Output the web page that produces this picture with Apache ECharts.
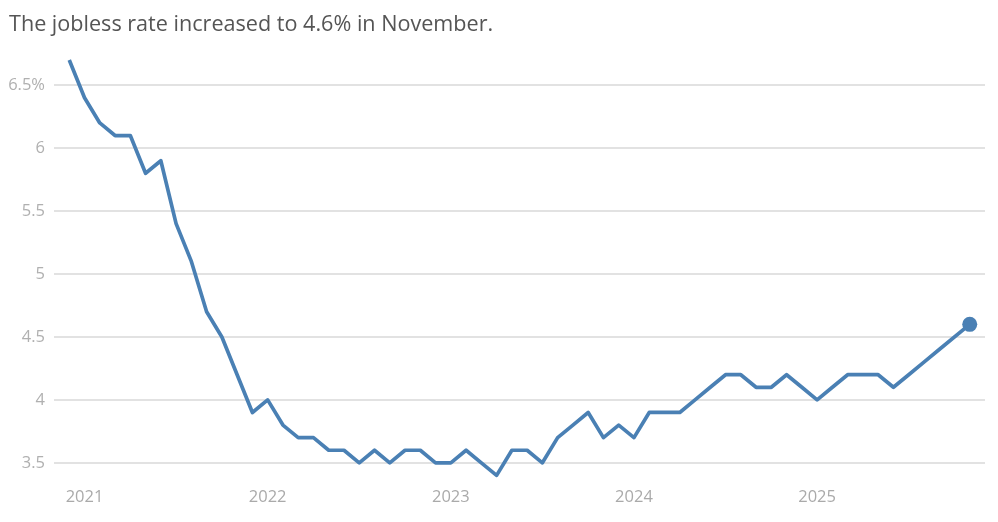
<!DOCTYPE html>
<html>
<head>
<meta charset="utf-8">
<script src="https://cdn.jsdelivr.net/npm/echarts@6/dist/echarts.min.js"></script>
<style>
html, body { margin: 0; padding: 0; background: #fff; }
#chart { width: 998px; height: 522px; }
</style>
</head>
<body>
<div id="chart"></div>
<script>
// 数据: monthly unemployment rate, Nov 2020 .. Dec 2025 (Nov 2020 / Dec 2025 are empty padding, Oct 2025 not published)
const years = [2020, 2021, 2022, 2023, 2024, 2025]
const r2020 = [null, 6.7] // Nov, Dec
const r2021 = [6.4, 6.2, 6.1, 6.1, 5.8, 5.9, 5.4, 5.1, 4.7, 4.5, 4.2, 3.9]
const r2022 = [4.0, 3.8, 3.7, 3.7, 3.6, 3.6, 3.5, 3.6, 3.5, 3.6, 3.6, 3.5]
const r2023 = [3.5, 3.6, 3.5, 3.4, 3.6, 3.6, 3.5, 3.7, 3.8, 3.9, 3.7, 3.8]
const r2024 = [3.7, 3.9, 3.9, 3.9, 4.0, 4.1, 4.2, 4.2, 4.1, 4.1, 4.2, 4.1]
const r2025 = [4.0, 4.1, 4.2, 4.2, 4.2, 4.1, 4.2, 4.3, 4.4, null, 4.6, null]
const yTicks = [3.5, 4, 4.5, 5, 5.5, 6, 6.5]

const rate = [].concat(r2020, r2021, r2022, r2023, r2024, r2025)
// category labels "YYYY-MM"
let months = []
years.forEach(function (y) {
    for (let m = 1; m <= 12; m++) {
        if (y === 2020 && m < 11) continue
        months.push(y + '-' + (m < 10 ? '0' + m : m))
    }
})

let lineColor = '#4a80b4'
let lastIdx = -1
rate.forEach(function (v, i) { if (v !== null) lastIdx = i })
let seriesData = rate.map(function (v, i) {
    if (i === lastIdx) return { value: v, symbol: 'circle', symbolSize: 15, itemStyle: { color: lineColor } }
    return v
})

let myChart = echarts.init(document.getElementById('chart'))
let option = {
    animation: false,
    title: {
        text: 'The jobless rate increased to 4.6% in November.',
        left: 4,
        top: 9,
        textStyle: {
            fontFamily: 'Open Sans',
            fontSize: 21.6,
            fontWeight: 'normal',
            color: '#555'
        }
    },
    grid: {
        left: 54,
        right: 13,
        top: 60,
        bottom: 34
    },
    xAxis: {
        type: 'category',
        data: months,
        boundaryGap: false,
        axisLine: { show: false },
        axisTick: { show: false },
        axisLabel: {
            interval: function (index, value) { return value.slice(5) === '01' },
            formatter: function (value) { return value.slice(0, 4) },
            color: '#aaa',
            fontSize: 16.5,
            fontFamily: 'Open Sans',
            margin: 1
        }
    },
    yAxis: {
        type: 'value',
        min: 3.3,
        max: 6.7,
        interval: 0.1,
        axisLine: { show: false },
        axisTick: { show: false },
        axisLabel: {
            color: '#b0b0b0',
            fontSize: 16.5,
            fontFamily: 'Open Sans',
            margin: 9,
            formatter: function (value) {
                let t = yTicks.find(function (k) { return Math.abs(k - value) < 1e-6 })
                if (t === undefined) return ''
                return t === 6.5 ? t + '%' : String(t)
            }
        },
        splitLine: {
            show: true,
            lineStyle: {
                // only every 5th line (3.5, 4.0, ...) is visible
                color: ['transparent', 'transparent', '#d9d9d9', 'transparent', 'transparent'],
                width: 1.5
            }
        }
    },
    series: [
        {
            type: 'line',
            data: seriesData,
            symbol: 'none',
            showSymbol: true,
            showAllSymbol: true,
            connectNulls: true,
            clip: false,
            lineStyle: { width: 3.7, color: lineColor, join: 'round' },
            itemStyle: { color: lineColor },
            emphasis: { disabled: true }
        }
    ]
}
myChart.setOption(option)
window.addEventListener('resize', function () { myChart.resize() })
</script>
</body>
</html>
